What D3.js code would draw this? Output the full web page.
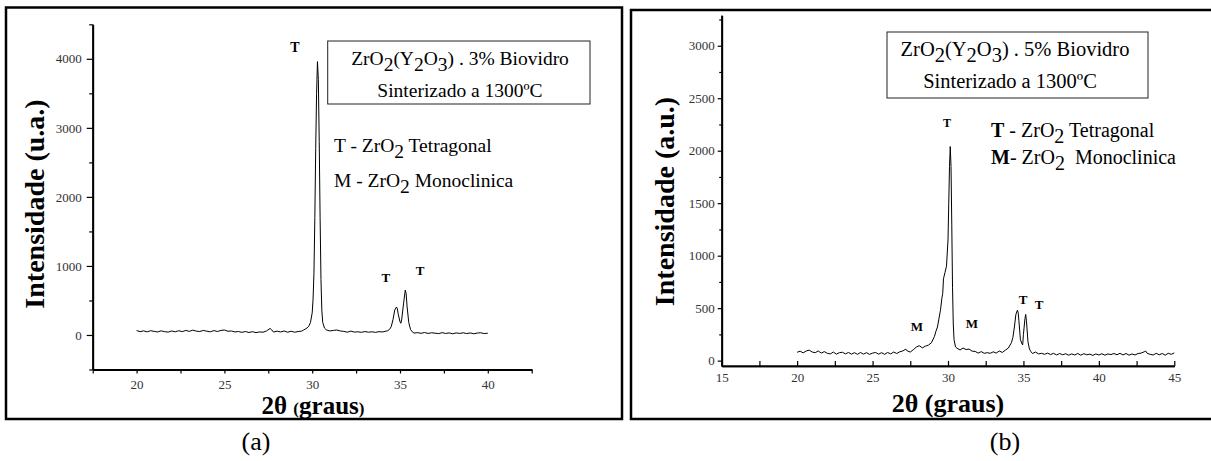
<!DOCTYPE html>
<html>
<head>
<meta charset="utf-8">
<script src="https://cdn.jsdelivr.net/npm/d3@7"></script>
<style>
  body { margin: 0; background: #fff; }
  text { white-space: pre; }
</style>
</head>
<body>
<div id="chart"></div>
<script>
var width = 1211
var height = 461
var serif = "'Liberation Serif', 'Times New Roman', serif"

// --- data: (a) 3% biovidro ---
var angleA = [20.0, 20.2, 20.4, 20.6, 20.8, 21.0, 21.2, 21.4, 21.6, 21.8, 22.0, 22.2, 22.4, 22.6, 22.8,
  23.0, 23.2, 23.4, 23.6, 23.8, 24.0, 24.2, 24.4, 24.6, 24.8, 25.0, 25.2, 25.4, 25.6, 25.8,
  26.0, 26.2, 26.4, 26.6, 26.8, 27.0, 27.2, 27.4, 27.6, 27.7, 27.8, 28.0, 28.2, 28.4, 28.6,
  28.8, 29.0, 29.2, 29.4, 29.5, 29.6, 29.7, 29.8, 29.9, 30.0, 30.05, 30.1, 30.15, 30.2, 30.25,
  30.3, 30.35, 30.4, 30.45, 30.5, 30.55, 30.6, 30.7, 30.8, 31.0, 31.2, 31.4, 31.6, 31.8, 32.0,
  32.2, 32.4, 32.6, 32.8, 33.0, 33.2, 33.4, 33.6, 33.8, 34.0, 34.2, 34.3, 34.4, 34.5, 34.6,
  34.7, 34.8, 34.85, 34.9, 35.0, 35.05, 35.1, 35.2, 35.3, 35.35, 35.4, 35.5, 35.6, 35.7, 35.8,
  36.0, 36.2, 36.4, 36.6, 36.8, 37.0, 37.2, 37.4, 37.6, 37.8, 38.0, 38.2, 38.4, 38.6, 38.8,
  39.0, 39.2, 39.4, 39.6, 39.8, 40.0]
var countsA = [64, 48, 60, 45, 62, 52, 44, 60, 48, 42, 58, 46, 62, 48, 66,
  52, 70, 56, 50, 66, 55, 46, 64, 50, 66, 72, 54, 58, 44, 50,
  38, 50, 36, 48, 34, 44, 40, 58, 95, 72, 42, 56, 44, 58, 40,
  54, 40, 50, 56, 70, 85, 100, 125, 180, 320, 520, 900, 1700, 2700, 3500,
  3960, 3700, 2800, 1700, 800, 350, 180, 100, 75, 58, 66, 72, 58, 52, 40,
  56, 42, 46, 38, 50, 40, 46, 38, 48, 44, 55, 62, 80, 120, 220,
  360, 405, 380, 300, 190, 170, 230, 450, 650, 600, 420, 180, 80, 45, 28,
  34, 24, 36, 22, 32, 26, 20, 34, 22, 30, 18, 30, 22, 32, 20,
  30, 18, 28, 32, 20, 26]

// --- data: (b) 5% biovidro ---
var angleB = [20.0, 20.2, 20.4, 20.6, 20.8, 21.0, 21.2, 21.4, 21.6, 21.8, 22.0, 22.2, 22.4, 22.6, 22.8,
  23.0, 23.2, 23.4, 23.6, 23.8, 24.0, 24.2, 24.4, 24.6, 24.8, 25.0, 25.2, 25.4, 25.6, 25.8,
  26.0, 26.2, 26.4, 26.6, 26.8, 27.0, 27.2, 27.3, 27.5, 27.7, 27.9, 28.1, 28.3, 28.5, 28.7,
  28.9, 29.1, 29.2, 29.3, 29.4, 29.5, 29.6, 29.65, 29.7, 29.8, 29.9, 30.0, 30.05, 30.1, 30.15,
  30.2, 30.25, 30.3, 30.35, 30.4, 30.5, 30.6, 30.8, 31.0, 31.2, 31.4, 31.6, 31.8, 32.0, 32.2,
  32.4, 32.6, 32.8, 33.0, 33.2, 33.4, 33.6, 33.8, 34.0, 34.2, 34.3, 34.4, 34.5, 34.6, 34.65,
  34.7, 34.8, 34.9, 34.95, 35.0, 35.1, 35.15, 35.2, 35.3, 35.4, 35.5, 35.6, 35.8, 36.0, 36.2,
  36.4, 36.6, 36.8, 37.0, 37.2, 37.4, 37.6, 37.8, 38.0, 38.2, 38.4, 38.6, 38.8, 39.0, 39.2,
  39.4, 39.6, 39.8, 40.0, 40.2, 40.4, 40.6, 40.8, 41.0, 41.2, 41.4, 41.6, 41.8, 42.0, 42.2,
  42.4, 42.6, 42.8, 43.0, 43.1, 43.2, 43.4, 43.6, 43.8, 44.0, 44.2, 44.4, 44.6, 44.8, 45.0]
var countsB = [80, 90, 74, 92, 100, 82, 76, 92, 72, 86, 70, 64, 82, 62, 76,
  80, 64, 78, 62, 76, 60, 78, 62, 76, 60, 72, 78, 62, 76, 60,
  78, 64, 82, 68, 84, 92, 110, 92, 82, 104, 130, 142, 122, 138, 148,
  170, 230, 280, 320, 400, 480, 600, 640, 780, 840, 900, 1150, 1500, 1850, 2040,
  1850, 1300, 700, 350, 200, 130, 118, 102, 120, 106, 110, 90, 88, 72, 86,
  70, 76, 70, 84, 72, 92, 78, 100, 120, 170, 220, 320, 440, 480, 460,
  380, 200, 160, 150, 250, 400, 440, 380, 180, 110, 85, 68, 82, 64, 70,
  60, 72, 58, 70, 54, 68, 56, 66, 52, 64, 54, 68, 52, 66, 56,
  62, 50, 64, 54, 66, 52, 64, 58, 68, 56, 70, 54, 68, 52, 64,
  54, 68, 72, 84, 92, 70, 60, 54, 70, 56, 68, 52, 70, 60, 74]

// axis ticks
var xTicksA = [20, 25, 30, 35, 40]
var xMinorA = [17.5, 22.5, 27.5, 32.5, 37.5, 42.5]
var yTicksA = [0, 1000, 2000, 3000, 4000]
var yMinorA = [-500, 500, 1500, 2500, 3500, 4500]
var xTicksB = [15, 20, 25, 30, 35, 40, 45]
var xMinorB = [17.5, 22.5, 27.5, 32.5, 37.5, 42.5]
var yTicksB = [0, 500, 1000, 1500, 2000, 2500, 3000]
var yMinorB = [250, 750, 1250, 1750, 2250, 2750, 3250]

// peak labels
var peakLabelsA = ['T', 'T', 'T']
var peakAnglesA = [29.02, 34.2, 36.14]
var peakCountsA = [4100, 768, 869]
var peakLabelsB = ['T', 'M', 'M', 'T', 'T']
var peakAnglesB = [29.93, 27.94, 31.59, 34.97, 36.03]
var peakCountsB = [2226, 282, 311, 540, 492]

var svg = d3
  .select('#chart')
  .append('svg')
  .attr('width', width)
  .attr('height', height)
  .style('font-family', serif)

svg.append('rect').attr('width', width).attr('height', height).attr('fill', '#fff')

// outer frames
svg.append('rect')
  .attr('x', 6).attr('y', 7.5).attr('width', 616).attr('height', 411.5)
  .attr('fill', 'none').attr('stroke', '#000').attr('stroke-width', 2.5)
svg.append('rect')
  .attr('x', 631).attr('y', 10).attr('width', 600).attr('height', 409)
  .attr('fill', 'none').attr('stroke', '#000').attr('stroke-width', 2.5)

// writes a text made of pieces, some lowered as subscripts
function chem(g, x, y, size, anchor, parts) {
  var t = g.append('text')
    .attr('x', x).attr('y', y)
    .style('font-family', serif)
    .attr('font-size', size)
    .attr('text-anchor', anchor)
    .attr('fill', '#000')
  var shift = 0
  parts.forEach(function(p) {
    var want = p.sub ? size * 0.3 : 0
    var s = t.append('tspan').attr('dy', want - shift).text(p.t)
    if (p.bold) s.attr('font-weight', 'bold')
    if (p.size) s.attr('font-size', p.size)
    shift = want
  })
  return t
}

function drawPanel(cfg) {
  var g = svg.append('g')

  var x = d3.scaleLinear().domain(cfg.xDomain).range(cfg.xRange)
  var y = d3.scaleLinear().domain(cfg.yDomain).range(cfg.yRange)

  // minor ticks
  g.append('g')
    .attr('transform', 'translate(0,' + cfg.yRange[0] + ')')
    .call(d3.axisBottom(x).tickValues(cfg.xMinor).tickSize(cfg.xTickMinor).tickSizeOuter(0).tickFormat(''))
  g.append('g')
    .attr('transform', 'translate(' + cfg.xRange[0] + ',0)')
    .call(d3.axisLeft(y).tickValues(cfg.yMinor).tickSize(cfg.yTickMinor).tickSizeOuter(0).tickFormat(''))

  // major ticks
  g.append('g')
    .attr('transform', 'translate(0,' + cfg.yRange[0] + ')')
    .call(d3.axisBottom(x).tickValues(cfg.xTicks).tickSize(cfg.xTick).tickSizeOuter(0)
      .tickPadding(cfg.xPad).tickFormat(d3.format('d')))
  g.append('g')
    .attr('transform', 'translate(' + cfg.xRange[0] + ',0)')
    .call(d3.axisLeft(y).tickValues(cfg.yTicks).tickSize(cfg.yTick).tickSizeOuter(0)
      .tickPadding(cfg.yPad).tickFormat(d3.format('d')))

  g.selectAll('.domain').attr('stroke', '#000').attr('stroke-width', 1.8)
  g.selectAll('.tick line').attr('stroke', '#000').attr('stroke-width', 1.2)
  g.selectAll('.tick text')
    .style('font-family', serif)
    .attr('font-size', 13)
    .attr('fill', '#333')

  // diffractogram
  var line = d3.line()
    .x(function(d) { return x(d[0]) })
    .y(function(d) { return y(d[1]) })
  g.append('path')
    .datum(d3.zip(cfg.angles, cfg.counts))
    .attr('d', line)
    .attr('fill', 'none')
    .attr('stroke', '#000')
    .attr('stroke-width', 1)
    .attr('stroke-linejoin', 'round')

  // peak letters
  cfg.labels.forEach(function(l, i) {
    g.append('text')
      .attr('x', x(cfg.labelAngles[i]))
      .attr('y', y(cfg.labelCounts[i]))
      .attr('text-anchor', 'middle')
      .style('font-family', serif)
      .attr('font-weight', 'bold')
      .attr('font-size', cfg.labelSizes[i])
      .text(l)
  })

  // axis titles
  g.append('text')
    .attr('transform', 'translate(' + cfg.yTitlePos[0] + ',' + cfg.yTitlePos[1] + ') rotate(-90)')
    .attr('text-anchor', 'middle')
    .style('font-family', serif)
    .attr('font-weight', 'bold')
    .attr('font-size', 28)
    .text(cfg.yTitle)

  chem(g, cfg.xTitlePos[0], cfg.xTitlePos[1], cfg.xTitleSize, 'middle', cfg.xTitle)
    .attr('font-weight', 'bold')

  // sample box
  g.append('rect')
    .attr('x', cfg.box[0]).attr('y', cfg.box[1]).attr('width', cfg.box[2]).attr('height', cfg.box[3])
    .attr('fill', '#fff').attr('stroke', '#222').attr('stroke-width', 1)
  chem(g, cfg.boxLine1[0], cfg.boxLine1[1], cfg.boxSize, 'middle', cfg.boxText1)
  chem(g, cfg.boxLine2[0], cfg.boxLine2[1], cfg.boxSize, 'middle', cfg.boxText2)

  // phase legend
  chem(g, cfg.legend[0], cfg.legend[1], cfg.legendSize, 'start', cfg.legendText1)
  chem(g, cfg.legend[0], cfg.legend[2], cfg.legendSize, 'start', cfg.legendText2)

  // panel letter
  g.append('text')
    .attr('x', cfg.letterPos[0]).attr('y', cfg.letterPos[1])
    .attr('text-anchor', 'middle')
    .style('font-family', serif)
    .attr('font-size', 26)
    .text(cfg.letter)
}

drawPanel({
  angles: angleA, counts: countsA,
  xDomain: [17.5, 42.5], xRange: [92.7, 531.7],
  yDomain: [-500, 4500], yRange: [369.5, 24.3],
  xTicks: xTicksA, xMinor: xMinorA, yTicks: yTicksA, yMinor: yMinorA,
  xTick: 4, xTickMinor: 4, xPad: 6,
  yTick: 6, yTickMinor: 3.5, yPad: 5,
  labels: peakLabelsA, labelAngles: peakAnglesA, labelCounts: peakCountsA, labelSizes: [14, 13, 13],
  yTitle: 'Intensidade (u.a.)', yTitlePos: [43.5, 204],
  xTitle: [{ t: '2θ ' }, { t: '(', size: 17 }, { t: 'graus' }, { t: ')', size: 17 }],
  xTitlePos: [313, 414], xTitleSize: 25,
  box: [327.7, 41, 262.3, 63], boxSize: 19.5,
  boxLine1: [460, 65], boxLine2: [460, 96.5],
  boxText1: [{ t: 'ZrO' }, { t: '2', sub: true }, { t: '(Y' }, { t: '2', sub: true }, { t: 'O' },
    { t: '3', sub: true }, { t: ') . 3% Biovidro' }],
  boxText2: [{ t: 'Sinterizado a 1300ºC' }],
  legend: [334, 152, 187], legendSize: 19.5,
  legendText1: [{ t: 'T - ZrO' }, { t: '2', sub: true }, { t: ' Tetragonal' }],
  legendText2: [{ t: 'M - ZrO' }, { t: '2', sub: true }, { t: ' Monoclinica' }],
  letter: '(a)', letterPos: [256, 450]
})

drawPanel({
  angles: angleB, counts: countsB,
  xDomain: [15, 45], xRange: [721.7, 1174.3],
  yDomain: [-50, 3290], yRange: [365.9, 15.3],
  xTicks: xTicksB, xMinor: xMinorB, yTicks: yTicksB, yMinor: yMinorB,
  xTick: -5, xTickMinor: -5, xPad: 6.6,
  yTick: 4, yTickMinor: 2.5, yPad: 3,
  labels: peakLabelsB, labelAngles: peakAnglesB, labelCounts: peakCountsB, labelSizes: [12, 13, 13, 13, 13],
  yTitle: 'Intensidade (a.u.)', yTitlePos: [673.5, 201.5],
  xTitle: [{ t: '2θ (graus)' }],
  xTitlePos: [948, 412], xTitleSize: 26,
  box: [887, 32, 261, 66], boxSize: 20.5,
  boxLine1: [1015, 56], boxLine2: [1010, 88.3],
  boxText1: [{ t: 'ZrO' }, { t: '2', sub: true }, { t: '(Y' }, { t: '2', sub: true }, { t: 'O' },
    { t: '3', sub: true }, { t: ') . 5% Biovidro' }],
  boxText2: [{ t: 'Sinterizado a 1300ºC' }],
  legend: [991, 137, 164], legendSize: 20,
  legendText1: [{ t: 'T', bold: true }, { t: ' - ZrO' }, { t: '2', sub: true }, { t: ' Tetragonal' }],
  legendText2: [{ t: 'M', bold: true }, { t: '- ZrO' }, { t: '2', sub: true }, { t: '  Monoclinica' }],
  letter: '(b)', letterPos: [1005, 450]
})
</script>
</body>
</html>
